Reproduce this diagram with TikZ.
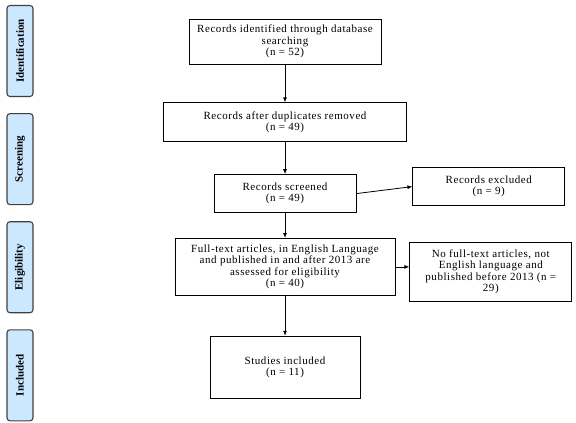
\documentclass[tikz,border=0pt]{standalone}
\usepackage{fontspec}
\setmainfont{Liberation Serif}
\newfontfamily\boxfont[LetterSpace=5]{Liberation Serif}
\usetikzlibrary{graphs,positioning,arrows.meta}
\definecolor{phaseblue}{RGB}{204,232,255}
\definecolor{phaseline}{RGB}{64,64,64}
\tikzset{
    stage/.style ={
        shape=rectangle,
        draw=black,
        line width=0.8pt,
        align=center,
        inner sep=2pt,
        font=\boxfont\fontsize{11}{11.5}\selectfont
    },
    phase/.style ={
        shape=rectangle,
        rounded corners=3pt,
        draw=phaseline,
        fill=phaseblue,
        line width=1.1pt,
        minimum width=26pt,
        minimum height=91pt,
        inner sep=0pt,
        font=\bfseries\fontsize{11}{12}\selectfont
    },
    flow/.style ={
        -{Latex[length=5pt,width=4pt]},
        line width=0.8pt
    }
}

\begin{document}
\begin{tikzpicture}
    \useasboundingbox (0,0) rectangle (576pt,-423pt);
    % phases on the left
    \node[phase] (ident) at (20pt,-51pt) {\rotatebox{90}{Identification}};
    \node[phase,below=16pt of ident] (screen) {\rotatebox{90}{Screening}};
    \node[phase,below=16pt of screen] (elig) {\rotatebox{90}{Eligibility}};
    \node[phase,below=16pt of elig] (incl) {\rotatebox{90}{Included}};
    % main flow
    \node[stage,minimum width=192pt,minimum height=45pt] (found) at (285pt,-41.5pt)
        {Records identified through database\\searching\\(n = 52)};
    \node[stage,minimum width=243pt,minimum height=39pt,below=38pt of found] (dedup)
        {Records after duplicates removed\\(n = 49)};
    \node[stage,minimum width=142pt,minimum height=38pt,below=32pt of dedup] (screened)
        {Records screened\\(n = 49)};
    \node[stage,minimum width=220pt,minimum height=57pt,below=25pt of screened] (fulltext)
        {Full-text articles, in English Language\\and published in and after 2013 are\\assessed for eligibility\\(n = 40)};
    \node[stage,minimum width=150pt,minimum height=62pt,below=40pt of fulltext] (studies)
        {Studies included\\(n = 11)};
    % excluded boxes
    \node[stage,minimum width=152pt,minimum height=38pt,right=56pt of screened,yshift=7pt] (excluded)
        {Records excluded\\(n = 9)};
    \node[stage,minimum width=162pt,minimum height=59pt,right=14pt of fulltext,yshift=-5pt] (dropped)
        {No full-text articles, not\\English language and\\published before 2013 (n =\\29)};
    \graph[edges=flow]{
        (found)->(dedup)->(screened)->(fulltext)->(studies);
    };
    \draw[flow] (screened.east) -- (excluded.west);
    \draw[flow] (fulltext.east) -- (fulltext.east -| dropped.west);
\end{tikzpicture}
\end{document}
